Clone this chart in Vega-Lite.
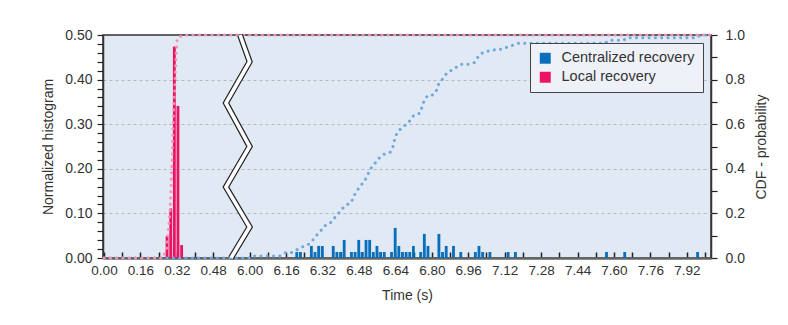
{
  "$schema": "https://vega.github.io/schema/vega-lite/v6.json",
  "width": 608,
  "height": 223,
  "autosize": {"type": "none"},
  "padding": {"left": 103, "top": 35, "right": 77, "bottom": 67},
  "background": "white",
  "datasets": {
    "hist": [
      {"series": "Local recovery", "start": 0.267, "end": 0.283, "value": 0.049},
      {"series": "Local recovery", "start": 0.283, "end": 0.299, "value": 0.111},
      {"series": "Local recovery", "start": 0.299, "end": 0.315, "value": 0.474},
      {"series": "Local recovery", "start": 0.315, "end": 0.331, "value": 0.341},
      {"series": "Local recovery", "start": 0.331, "end": 0.347, "value": 0.029},
      {"series": "Centralized recovery", "start": 6.197, "end": 6.213, "value": 0.0135},
      {"series": "Centralized recovery", "start": 6.213, "end": 6.229, "value": 0.0135},
      {"series": "Centralized recovery", "start": 6.261, "end": 6.277, "value": 0.027},
      {"series": "Centralized recovery", "start": 6.277, "end": 6.293, "value": 0.0135},
      {"series": "Centralized recovery", "start": 6.293, "end": 6.309, "value": 0.027},
      {"series": "Centralized recovery", "start": 6.309, "end": 6.325, "value": 0.027},
      {"series": "Centralized recovery", "start": 6.357, "end": 6.373, "value": 0.027},
      {"series": "Centralized recovery", "start": 6.373, "end": 6.389, "value": 0.0135},
      {"series": "Centralized recovery", "start": 6.389, "end": 6.405, "value": 0.0135},
      {"series": "Centralized recovery", "start": 6.405, "end": 6.421, "value": 0.0405},
      {"series": "Centralized recovery", "start": 6.437, "end": 6.453, "value": 0.0135},
      {"series": "Centralized recovery", "start": 6.453, "end": 6.469, "value": 0.0135},
      {"series": "Centralized recovery", "start": 6.469, "end": 6.485, "value": 0.0405},
      {"series": "Centralized recovery", "start": 6.485, "end": 6.501, "value": 0.0135},
      {"series": "Centralized recovery", "start": 6.501, "end": 6.517, "value": 0.0405},
      {"series": "Centralized recovery", "start": 6.517, "end": 6.533, "value": 0.0405},
      {"series": "Centralized recovery", "start": 6.533, "end": 6.549, "value": 0.0135},
      {"series": "Centralized recovery", "start": 6.549, "end": 6.565, "value": 0.027},
      {"series": "Centralized recovery", "start": 6.565, "end": 6.581, "value": 0.0135},
      {"series": "Centralized recovery", "start": 6.581, "end": 6.597, "value": 0.0135},
      {"series": "Centralized recovery", "start": 6.613, "end": 6.629, "value": 0.0135},
      {"series": "Centralized recovery", "start": 6.629, "end": 6.645, "value": 0.0675},
      {"series": "Centralized recovery", "start": 6.645, "end": 6.661, "value": 0.027},
      {"series": "Centralized recovery", "start": 6.661, "end": 6.677, "value": 0.0135},
      {"series": "Centralized recovery", "start": 6.677, "end": 6.693, "value": 0.0135},
      {"series": "Centralized recovery", "start": 6.693, "end": 6.709, "value": 0.0135},
      {"series": "Centralized recovery", "start": 6.709, "end": 6.725, "value": 0.027},
      {"series": "Centralized recovery", "start": 6.741, "end": 6.757, "value": 0.0135},
      {"series": "Centralized recovery", "start": 6.757, "end": 6.773, "value": 0.054},
      {"series": "Centralized recovery", "start": 6.773, "end": 6.789, "value": 0.027},
      {"series": "Centralized recovery", "start": 6.821, "end": 6.837, "value": 0.054},
      {"series": "Centralized recovery", "start": 6.837, "end": 6.853, "value": 0.0135},
      {"series": "Centralized recovery", "start": 6.853, "end": 6.869, "value": 0.027},
      {"series": "Centralized recovery", "start": 6.885, "end": 6.901, "value": 0.027},
      {"series": "Centralized recovery", "start": 6.917, "end": 6.933, "value": 0.0135},
      {"series": "Centralized recovery", "start": 6.981, "end": 6.997, "value": 0.0135},
      {"series": "Centralized recovery", "start": 6.997, "end": 7.013, "value": 0.027},
      {"series": "Centralized recovery", "start": 7.013, "end": 7.029, "value": 0.0135},
      {"series": "Centralized recovery", "start": 7.045, "end": 7.061, "value": 0.0135},
      {"series": "Centralized recovery", "start": 7.125, "end": 7.141, "value": 0.0135},
      {"series": "Centralized recovery", "start": 7.157, "end": 7.173, "value": 0.0135},
      {"series": "Centralized recovery", "start": 7.557, "end": 7.573, "value": 0.0135},
      {"series": "Centralized recovery", "start": 7.637, "end": 7.653, "value": 0.0135},
      {"series": "Centralized recovery", "start": 7.957, "end": 7.973, "value": 0.0135}
    ],
    "cdf": [
      {"series": "Centralized recovery", "t": 0, "p": 0},
      {"series": "Centralized recovery", "t": 6.0, "p": 0},
      {"series": "Centralized recovery", "t": 6.013, "p": 0.009},
      {"series": "Centralized recovery", "t": 6.132, "p": 0.009},
      {"series": "Centralized recovery", "t": 6.158, "p": 0.024},
      {"series": "Centralized recovery", "t": 6.183, "p": 0.024},
      {"series": "Centralized recovery", "t": 6.208, "p": 0.037},
      {"series": "Centralized recovery", "t": 6.234, "p": 0.051},
      {"series": "Centralized recovery", "t": 6.258, "p": 0.061},
      {"series": "Centralized recovery", "t": 6.278, "p": 0.081},
      {"series": "Centralized recovery", "t": 6.296, "p": 0.104},
      {"series": "Centralized recovery", "t": 6.312, "p": 0.122},
      {"series": "Centralized recovery", "t": 6.331, "p": 0.145},
      {"series": "Centralized recovery", "t": 6.352, "p": 0.154},
      {"series": "Centralized recovery", "t": 6.369, "p": 0.175},
      {"series": "Centralized recovery", "t": 6.388, "p": 0.197},
      {"series": "Centralized recovery", "t": 6.404, "p": 0.218},
      {"series": "Centralized recovery", "t": 6.423, "p": 0.236},
      {"series": "Centralized recovery", "t": 6.447, "p": 0.25},
      {"series": "Centralized recovery", "t": 6.458, "p": 0.278},
      {"series": "Centralized recovery", "t": 6.472, "p": 0.302},
      {"series": "Centralized recovery", "t": 6.487, "p": 0.324},
      {"series": "Centralized recovery", "t": 6.505, "p": 0.345},
      {"series": "Centralized recovery", "t": 6.519, "p": 0.375},
      {"series": "Centralized recovery", "t": 6.531, "p": 0.4},
      {"series": "Centralized recovery", "t": 6.549, "p": 0.423},
      {"series": "Centralized recovery", "t": 6.568, "p": 0.447},
      {"series": "Centralized recovery", "t": 6.59, "p": 0.465},
      {"series": "Centralized recovery", "t": 6.617, "p": 0.474},
      {"series": "Centralized recovery", "t": 6.629, "p": 0.498},
      {"series": "Centralized recovery", "t": 6.636, "p": 0.528},
      {"series": "Centralized recovery", "t": 6.645, "p": 0.555},
      {"series": "Centralized recovery", "t": 6.662, "p": 0.578},
      {"series": "Centralized recovery", "t": 6.684, "p": 0.596},
      {"series": "Centralized recovery", "t": 6.705, "p": 0.617},
      {"series": "Centralized recovery", "t": 6.721, "p": 0.64},
      {"series": "Centralized recovery", "t": 6.747, "p": 0.649},
      {"series": "Centralized recovery", "t": 6.757, "p": 0.676},
      {"series": "Centralized recovery", "t": 6.766, "p": 0.704},
      {"series": "Centralized recovery", "t": 6.781, "p": 0.728},
      {"series": "Centralized recovery", "t": 6.807, "p": 0.732},
      {"series": "Centralized recovery", "t": 6.821, "p": 0.753},
      {"series": "Centralized recovery", "t": 6.831, "p": 0.782},
      {"series": "Centralized recovery", "t": 6.848, "p": 0.803},
      {"series": "Centralized recovery", "t": 6.865, "p": 0.828},
      {"series": "Centralized recovery", "t": 6.907, "p": 0.855},
      {"series": "Centralized recovery", "t": 6.931, "p": 0.869},
      {"series": "Centralized recovery", "t": 6.96, "p": 0.869},
      {"series": "Centralized recovery", "t": 6.986, "p": 0.876},
      {"series": "Centralized recovery", "t": 7.002, "p": 0.9},
      {"series": "Centralized recovery", "t": 7.023, "p": 0.921},
      {"series": "Centralized recovery", "t": 7.049, "p": 0.928},
      {"series": "Centralized recovery", "t": 7.077, "p": 0.934},
      {"series": "Centralized recovery", "t": 7.105, "p": 0.936},
      {"series": "Centralized recovery", "t": 7.13, "p": 0.945},
      {"series": "Centralized recovery", "t": 7.156, "p": 0.954},
      {"series": "Centralized recovery", "t": 7.181, "p": 0.963},
      {"series": "Centralized recovery", "t": 7.56, "p": 0.963},
      {"series": "Centralized recovery", "t": 7.58, "p": 0.976},
      {"series": "Centralized recovery", "t": 7.64, "p": 0.976},
      {"series": "Centralized recovery", "t": 7.66, "p": 0.988},
      {"series": "Centralized recovery", "t": 7.96, "p": 0.988},
      {"series": "Centralized recovery", "t": 7.98, "p": 1.0},
      {"series": "Centralized recovery", "t": 8.026, "p": 1.0},
      {"series": "Local recovery", "t": 0, "p": 0},
      {"series": "Local recovery", "t": 0.259, "p": 0},
      {"series": "Local recovery", "t": 0.276, "p": 0.045},
      {"series": "Local recovery", "t": 0.283, "p": 0.126},
      {"series": "Local recovery", "t": 0.29, "p": 0.206},
      {"series": "Local recovery", "t": 0.298, "p": 0.404},
      {"series": "Local recovery", "t": 0.305, "p": 0.628},
      {"series": "Local recovery", "t": 0.311, "p": 0.762},
      {"series": "Local recovery", "t": 0.313, "p": 0.821},
      {"series": "Local recovery", "t": 0.316, "p": 0.88},
      {"series": "Local recovery", "t": 0.318, "p": 0.933},
      {"series": "Local recovery", "t": 0.322, "p": 0.985},
      {"series": "Local recovery", "t": 0.331, "p": 0.992},
      {"series": "Local recovery", "t": 0.356, "p": 1.0},
      {"series": "Local recovery", "t": 8.026, "p": 1.0}
    ],
    "brk": [
      {"i": 0, "t": 0.598, "p": 1.0},
      {"i": 1, "t": 6.0, "p": 0.88},
      {"i": 2, "t": 0.536, "p": 0.695},
      {"i": 3, "t": 6.0, "p": 0.5},
      {"i": 4, "t": 0.536, "p": 0.318},
      {"i": 5, "t": 6.0, "p": 0.139},
      {"i": 6, "t": 0.558, "p": 0.0}
    ]
  },
  "layer": [
    {
      "data": {"name": "hist"},
      "mark": {"type": "bar", "binSpacing": 0.8},
      "encoding": {
        "x": {
          "field": "start", "type": "quantitative", "bin": {"binned": true},
          "scale": {"domain": [-0.0044, 0.6, 5.96, 8.026], "range": [0, 137.5, 137.5, 608], "nice": false, "zero": false},
          "axis": {
            "orient": "bottom",
            "title": "Time (s)",
            "values": [0, 0.08, 0.16, 0.24, 0.32, 0.4, 0.48, 6.0, 6.08, 6.16, 6.24, 6.32, 6.4, 6.48, 6.56, 6.64, 6.72, 6.8, 6.88, 6.96, 7.04, 7.12, 7.2, 7.28, 7.36, 7.44, 7.52, 7.6, 7.68, 7.76, 7.84, 7.92, 8.0],
            "tickCount": 200,
            "labelExpr": "((datum.value < 1 ? round(datum.value / 0.08) % 2 == 0 : round((datum.value - 6) / 0.08) % 2 == 0) && datum.value < 7.99) ? format(datum.value, '.2f') : ''",
            "tickSize": -6, "tickWidth": 1.5, "tickColor": "#222",
            "labelPadding": 11, "labelOverlap": false, "labelFlush": false,
            "labelFontSize": 13.5,
            "domainColor": "#666", "domainWidth": 2.5, "grid": false,
            "titleFontSize": 14, "titlePadding": 12
          }
        },
        "x2": {"field": "end"},
        "y": {
          "field": "value", "type": "quantitative",
          "scale": {"domain": [0, 0.5], "nice": false, "zero": true},
          "axis": {
            "orient": "left",
            "title": "Normalized histogram",
            "values": [0, 0.02, 0.04, 0.06, 0.08, 0.1, 0.12, 0.14, 0.16, 0.18, 0.2, 0.22, 0.24, 0.26, 0.28, 0.3, 0.32, 0.34, 0.36, 0.38, 0.4, 0.42, 0.44, 0.46, 0.48, 0.5],
            "tickCount": 200,
            "labelExpr": "abs(datum.value * 10 - round(datum.value * 10)) < 0.001 ? format(datum.value, '.2f') : ''",
            "tickSize": 6, "tickWidth": 1.2, "tickColor": "#222", "labelPadding": 5,
            "labelOverlap": false, "labelFlush": false,
            "domainColor": "#333", "domainWidth": 1.5,
            "grid": true, "gridDash": [3, 3], "gridColor": "#b5b9bf", "gridWidth": 1,
            "gridOpacity": {"condition": {"test": "abs(datum.value * 10 - round(datum.value * 10)) < 0.001 && datum.value > 0.001 && datum.value < 0.499", "value": 1}, "value": 0},
            "titleFontSize": 14, "titlePadding": 9
          }
        },
        "color": {
          "field": "series", "type": "nominal",
          "scale": {"domain": ["Centralized recovery", "Local recovery"], "range": ["#0a6fba", "#ec1462"]},
          "legend": {
            "title": null, "orient": "top-right", "offset": 8,
            "fillColor": "#eef2f8", "strokeColor": "#444", "padding": 8,
            "symbolType": "square", "symbolSize": 120, "symbolStrokeWidth": 0,
            "labelFontSize": 14.5, "labelColor": "#333", "labelLimit": 300,
            "rowPadding": 4, "labelOffset": 9
          }
        }
      }
    },
    {
      "layer": [
        {
          "data": {"name": "cdf"},
          "transform": [{"filter": "datum.series == 'Centralized recovery'"}],
          "mark": {"type": "line", "color": "#6fa7de", "strokeWidth": 3, "strokeDash": [0.1, 6.2], "strokeCap": "round"},
          "encoding": {
            "x": {"field": "t", "type": "quantitative", "scale": {"domain": [-0.0044, 0.6, 5.96, 8.026], "range": [0, 137.5, 137.5, 608], "nice": false, "zero": false}},
            "y": {
              "field": "p", "type": "quantitative",
              "scale": {"domain": [0, 1], "nice": false, "zero": true},
              "axis": {
                "orient": "right", "title": "CDF - probability",
                "values": [0, 0.1, 0.2, 0.3, 0.4, 0.5, 0.6, 0.7, 0.8, 0.9, 1.0],
                "tickCount": 200,
                "labelExpr": "abs(datum.value * 5 - round(datum.value * 5)) < 0.001 ? format(datum.value, '.1f') : ''",
                "tickSize": 6, "tickWidth": 1.2, "tickColor": "#222", "labelPadding": 8,
                "labelOverlap": false, "labelFlush": false,
                "domainColor": "#333", "domainWidth": 1.5, "grid": false,
                "titleAngle": 270, "titleBaseline": "top",
                "titleFontSize": 14, "titlePadding": 10
              }
            },
            "order": {"field": "t", "type": "quantitative"}
          }
        },
        {
          "data": {"name": "cdf"},
          "transform": [{"filter": "datum.series == 'Local recovery'"}],
          "mark": {"type": "line", "color": "#f591b1", "strokeWidth": 3, "strokeDash": [0.1, 6.2], "strokeCap": "round"},
          "encoding": {
            "x": {"field": "t", "type": "quantitative"},
            "y": {"field": "p", "type": "quantitative", "axis": {"orient": "right"}},
            "order": {"field": "t", "type": "quantitative"}
          }
        },
        {
          "data": {"name": "brk"},
          "mark": {"type": "line", "color": "#222", "strokeWidth": 6, "strokeJoin": "miter"},
          "encoding": {
            "x": {"field": "t", "type": "quantitative"},
            "y": {"field": "p", "type": "quantitative", "axis": {"orient": "right"}},
            "order": {"field": "i", "type": "quantitative"}
          }
        },
        {
          "data": {"name": "brk"},
          "mark": {"type": "line", "color": "#ffffff", "strokeWidth": 3.6, "strokeJoin": "miter"},
          "encoding": {
            "x": {"field": "t", "type": "quantitative"},
            "y": {"field": "p", "type": "quantitative", "axis": {"orient": "right"}},
            "order": {"field": "i", "type": "quantitative"}
          }
        }
      ]
    }
  ],
  "resolve": {"scale": {"y": "independent"}, "axis": {"y": "independent"}},
  "config": {
    "font": "Liberation Sans",
    "axis": {"labelColor": "#333", "titleColor": "#333", "labelFontSize": 14, "titleFontWeight": "normal", "labelFont": "Liberation Sans", "titleFont": "Liberation Sans", "labelOverlap": false, "labelFlush": false},
    "legend": {"labelFont": "Liberation Sans"},
    "view": {"fill": "#e0e9f4", "stroke": "#333", "strokeWidth": 1.5}
  }
}
